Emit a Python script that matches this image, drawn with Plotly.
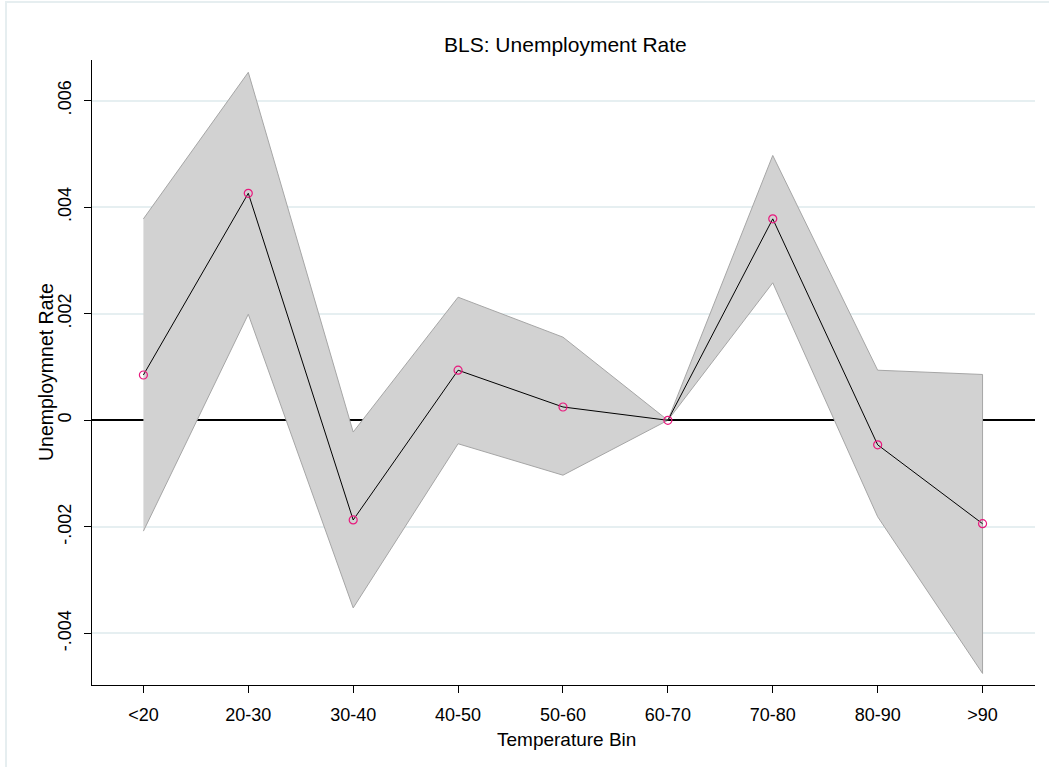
import plotly.graph_objects as go

# ---- data ----
categories = ["<20", "20-30", "30-40", "40-50", "50-60", "60-70", "70-80", "80-90", ">90"]
coef = [0.00085, 0.00426, -0.00187, 0.00094, 0.00025, 0.0, 0.00378, -0.00046, -0.00194]
ci_upper = [0.00378, 0.00653, -0.00022, 0.00231, 0.00156, 0.0, 0.00497, 0.00094, 0.00086]
ci_lower = [-0.00208, 0.00199, -0.00352, -0.00044, -0.00103, 0.0, 0.00258, -0.00181, -0.00475]

y_tickvals = [-0.004, -0.002, 0, 0.002, 0.004, 0.006]
y_ticktext = ["-.004", "-.002", "0", ".002", ".004", ".006"]

title_text = "BLS: Unemployment Rate"
x_title = "Temperature Bin"
y_title = "Unemploymnet Rate"

FONT = "Liberation Sans, Arial, sans-serif"

fig = go.Figure()

# confidence band polygon
fig.add_trace(go.Scatter(
    x=categories + categories[::-1],
    y=ci_upper + ci_lower[::-1],
    fill="toself",
    fillcolor="#d2d2d2",
    line=dict(color="#a6a6a6", width=1),
    mode="lines",
    hoverinfo="skip",
    showlegend=False,
))

# point estimates
fig.add_trace(go.Scatter(
    x=categories,
    y=coef,
    mode="lines+markers",
    line=dict(color="black", width=1),
    marker=dict(symbol="circle-open", size=8, color="#e8197d", line=dict(width=1.2, color="#e8197d")),
    showlegend=False,
))

L, R, T, B = 92, 14, 60, 82
W, H = 1049, 767
pw, ph = W - L - R, H - T - B

def px_x(px):
    return (px - L) / pw

def px_y(py):
    return (H - B - py) / ph

fig.update_layout(
    width=W, height=H,
    margin=dict(l=L, r=R, t=T, b=B, pad=0),
    paper_bgcolor="white",
    plot_bgcolor="white",
    font=dict(family=FONT, color="black", size=18),
    showlegend=False,
    xaxis=dict(
        type="category",
        range=[-0.49, 8.5],
        showgrid=False,
        zeroline=False,
        showline=True, linecolor="black", linewidth=1.3,
        ticks="outside", ticklen=7, tickwidth=1, tickcolor="black",
        tickfont=dict(size=18, family=FONT, color="black"),
        ticklabelstandoff=6,
    ),
    yaxis=dict(
        range=[-0.004967, 0.006761],
        tickvals=y_tickvals,
        ticktext=y_ticktext,
        tickangle=-90,
        showgrid=True, gridcolor="#e6eff1", gridwidth=1.5,
        zeroline=True, zerolinecolor="black", zerolinewidth=1.6,
        showline=True, linecolor="black", linewidth=1.3,
        ticks="outside", ticklen=7, tickwidth=1, tickcolor="black",
        tickfont=dict(size=18, family=FONT, color="black"),
        ticklabelstandoff=6,
    ),
    annotations=[
        dict(text=title_text, xref="paper", yref="paper", x=px_x(565), y=px_y(45),
             xanchor="center", yanchor="middle", showarrow=False,
             font=dict(size=21, family=FONT, color="black")),
        dict(text=x_title, xref="paper", yref="paper", x=px_x(566), y=px_y(739),
             xanchor="center", yanchor="middle", showarrow=False,
             font=dict(size=19, family=FONT, color="black")),
        dict(text=y_title, xref="paper", yref="paper", x=px_x(46), y=px_y(372),
             xanchor="center", yanchor="middle", showarrow=False, textangle=-90,
             font=dict(size=19.5, family=FONT, color="black")),
    ],
    shapes=[
        dict(type="rect", xref="paper", yref="paper",
             x0=px_x(6), x1=px_x(1070), y0=px_y(790), y1=px_y(2),
             line=dict(color="#e6eef0", width=2), fillcolor="rgba(0,0,0,0)", layer="below"),
    ],
)

fig.write_html("out.html")
